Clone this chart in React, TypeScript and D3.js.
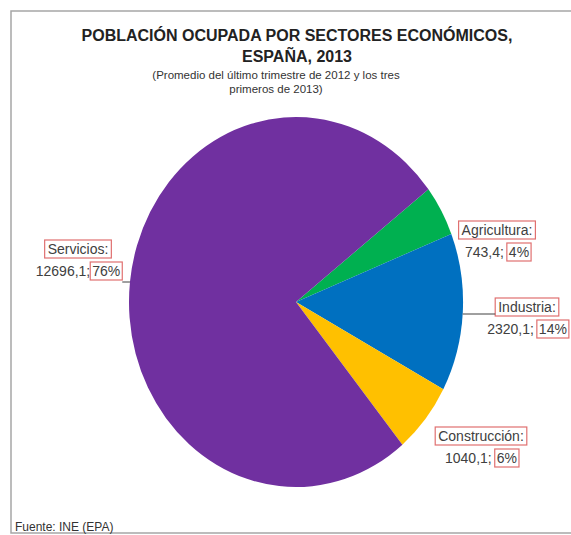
import React, { useRef, useEffect } from "react";
import * as d3 from "d3";

const sectors = ["Agricultura", "Industria", "Construcción", "Servicios"];
const values = [743.4, 2320.1, 1040.1, 12696.1];
const valueLabels = ["743,4;", "2320,1;", "1040,1;", "12696,1;"];
const percentLabels = ["4%", "14%", "6%", "76%"];
const colors = ["#00B050", "#0070C0", "#FFC000", "#7030A0"];

const titleLines = ["POBLACIÓN OCUPADA POR SECTORES ECONÓMICOS,", "ESPAÑA, 2013"];
const subtitleLines = ["(Promedio del último trimestre de 2012 y los tres", "primeros de 2013)"];
const source = "Fuente: INE (EPA)";

const width = 571;
const height = 535;
const pie = { cx: 296, cy: 302, rx: 167, ry: 185, start: (52.5 * Math.PI) / 180 };

// label block centres (x of centre, baseline of first line), gap before the percent
const labelPos: Record<string, { x: number; y: number; gap: number; leaderY?: number; side?: string }> = {
  Agricultura: { x: 497, y: 235, gap: 5 },
  Industria: { x: 527, y: 312, gap: 5, leaderY: 314, side: "right" },
  "Construcción": { x: 481, y: 441, gap: 5 },
  Servicios: { x: 78, y: 254, gap: 2, leaderY: 282, side: "left" },
};

export default function App() {
  const ref = useRef<SVGSVGElement>(null);

  useEffect(() => {
    document.body.style.margin = "0";
    if (!ref.current) return;
    const svg = d3.select(ref.current);
    svg.selectAll("*").remove();

    svg.append("rect").attr("width", width).attr("height", height).attr("fill", "#fff");
    svg.append("rect")
      .attr("x", 11).attr("y", 11).attr("width", width + 20).attr("height", height - 13)
      .attr("fill", "none").attr("stroke", "#a6a6a6").attr("stroke-width", 1.5);

    const title = svg.append("g").attr("font-family", "Liberation Sans, Arial, sans-serif").attr("text-anchor", "middle");
    titleLines.forEach((t, i) => {
      title.append("text").attr("x", 297).attr("y", 41 + i * 21)
        .attr("font-size", 16).attr("font-weight", "bold").attr("fill", "#222").text(t);
    });
    subtitleLines.forEach((t, i) => {
      title.append("text").attr("x", 276).attr("y", 79 + i * 14)
        .attr("font-size", 11.5).attr("fill", "#333").text(t);
    });

    const arcs = d3.pie<number>().sort(null).startAngle(pie.start).endAngle(pie.start + 2 * Math.PI)(values);
    const arc = d3.arc<d3.PieArcDatum<number>>().innerRadius(0).outerRadius(1);
    const g = svg.append("g").attr("transform", `translate(${pie.cx},${pie.cy}) scale(${pie.rx},${pie.ry})`);
    g.selectAll("path").data(arcs).join("path")
      .attr("d", (d) => arc(d) as string)
      .attr("fill", (_, i) => colors[i]);

    const lab = svg.append("g").attr("font-family", "Liberation Sans, Arial, sans-serif").attr("font-size", 14).attr("fill", "#404040");
    const boxColor = "#e07070";
    sectors.forEach((name, i) => {
      const p = labelPos[name];
      const t1 = lab.append("text").attr("x", p.x).attr("y", p.y).attr("text-anchor", "middle").text(name + ":");
      const b1 = (t1.node() as SVGTextElement).getBBox();
      lab.append("rect").attr("x", b1.x - 3).attr("y", b1.y - 1).attr("width", b1.width + 6).attr("height", b1.height + 2)
        .attr("fill", "none").attr("stroke", boxColor).attr("stroke-width", 1.2);

      const y2 = p.y + 22;
      const left = lab.append("text").attr("y", y2).text(valueLabels[i]);
      const right = lab.append("text").attr("y", y2).text(percentLabels[i]);
      const wl = (left.node() as SVGTextElement).getComputedTextLength() + p.gap;
      const wr = (right.node() as SVGTextElement).getComputedTextLength();
      const x0 = p.x - (wl + wr) / 2;
      left.attr("x", x0);
      right.attr("x", x0 + wl);
      const b2 = (right.node() as SVGTextElement).getBBox();
      lab.append("rect").attr("x", b2.x - 2).attr("y", b2.y - 1).attr("width", b2.width + 4).attr("height", b2.height + 2)
        .attr("fill", "none").attr("stroke", boxColor).attr("stroke-width", 1.2);

      if (p.leaderY !== undefined) {
        const dy = (p.leaderY - pie.cy) / pie.ry;
        const dx = pie.rx * Math.sqrt(1 - dy * dy);
        const edgeX = p.side === "left" ? pie.cx - dx : pie.cx + dx;
        const labX = p.side === "left" ? x0 + wl + wr + 2 : b1.x - 3;
        svg.append("line").attr("x1", labX).attr("y1", p.leaderY).attr("x2", edgeX).attr("y2", p.leaderY)
          .attr("stroke", "#404040").attr("stroke-width", 1);
      }
    });

    svg.append("text").attr("x", 15).attr("y", 531)
      .attr("font-family", "Liberation Sans, Arial, sans-serif").attr("font-size", 12).attr("fill", "#333").text(source);
  }, []);

  return <svg ref={ref} width={width} height={height}></svg>;
}
